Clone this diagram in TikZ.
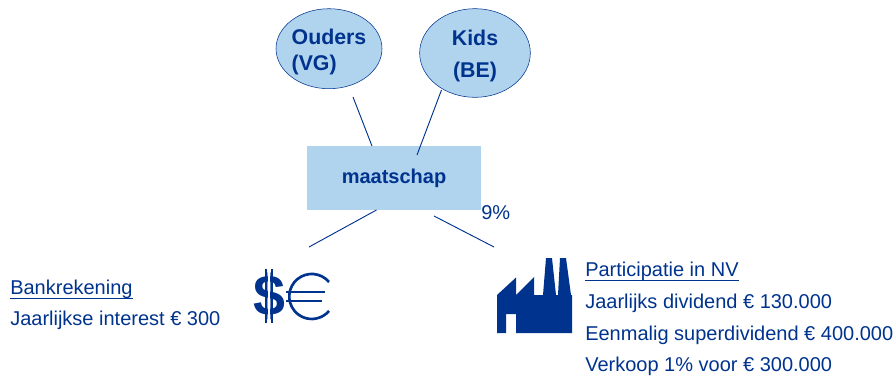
\documentclass[tikz,border=0pt]{standalone}
\usepackage{fontspec}
\setmainfont{Liberation Sans}
\usetikzlibrary{shapes.geometric}
\definecolor{navy}{RGB}{0,51,141}
\definecolor{lightblue}{RGB}{176,211,238}
\newcommand{\heading}[1]{\underline{\raisebox{0pt}[12pt][1.6pt]{#1}}}
\tikzset{
    person/.style = {ellipse, draw=navy, fill=lightblue, inner sep=0pt, align=left, text=navy,
        font=\fontsize{16}{19.5}\selectfont\bfseries},
    info/.style = {anchor=base west, inner sep=0pt, text=navy, font=\fontsize{15}{18}\selectfont},
    link/.style = {draw=navy, line width=0.7pt}
}
\begin{document}
\begin{tikzpicture}[x=0.75pt, y=-0.75pt]
    \useasboundingbox (0,0) rectangle (896,375);
    % persons and company
    \node[person, minimum width=79.5pt, minimum height=60pt] (ouders) at (329,48.7) {\rule{0pt}{16pt}Ouders\\(VG)};
    \node[person, minimum width=83pt, minimum height=66.5pt, align=center] (kids) at (475,53) {\rule{0pt}{16pt}Kids\\[5pt](BE)};
    \node[fill=lightblue, text=navy, minimum width=130.5pt, minimum height=48pt, inner sep=0pt,
        font=\fontsize{15}{18}\selectfont\bfseries] (maatschap) at (394,178) {maatschap};
    \node[info] (pct) at (481,219) {9\%};
    % free ends of the lines
    \coordinate (a) at (353,97);
    \coordinate (b) at (372,146);
    \coordinate (c) at (441.5,90);
    \coordinate (d) at (417,155);
    \coordinate (e) at (376.5,210);
    \coordinate (f) at (309,247);
    \coordinate (g) at (434,216);
    \coordinate (h) at (494,247);
    \draw[link] (a) -- (b);
    \draw[link] (c) -- (d);
    \draw[link] (e) -- (f);
    \draw[link] (g) -- (h);
    % left text
    \node[info] (bank) at (10,294) {\heading{Bankrekening}};
    \node[info] (interest) at (10,325.7) {Jaarlijkse interest € 300};
    % dollar and euro
    \node[text=navy, inner sep=0pt, font=\fontsize{43}{43}\selectfont\bfseries] (dollar) at (269,296) {\$};
    \draw[white, line width=1pt] (269,268) -- (269,324);
    \draw[navy, line width=1.5pt] (266,269) -- (266,323);
    \draw[navy, line width=1.5pt] (272,269) -- (272,323);
    \draw[navy, line width=2pt] (329,282) arc (-40:-320:22.5);
    \draw[navy, line width=2pt] (286,292) -- (325,292);
    \draw[navy, line width=2pt] (286,301) -- (322,301);
    % factory
    \fill[navy] (497,333) -- (497,295) -- (516,277.5) -- (516,295) -- (534,277) -- (534,295)
        -- (543,295) -- (546,258) -- (552,258) -- (556,295) -- (558,295) -- (560,258)
        -- (566,258) -- (571,295) -- (572,295) -- (572,333) -- (516,333) -- (516,314)
        -- (506,314) -- (506,333) -- cycle;
    % right text
    \node[info] (part) at (585,276) {\heading{Participatie in NV}};
    \node[info] (div) at (585,308) {Jaarlijks dividend € 130.000};
    \node[info] (super) at (585,340) {Eenmalig superdividend € 400.000};
    \node[info] (sale) at (585,371.7) {Verkoop 1\% voor € 300.000};
\end{tikzpicture}
\end{document}
